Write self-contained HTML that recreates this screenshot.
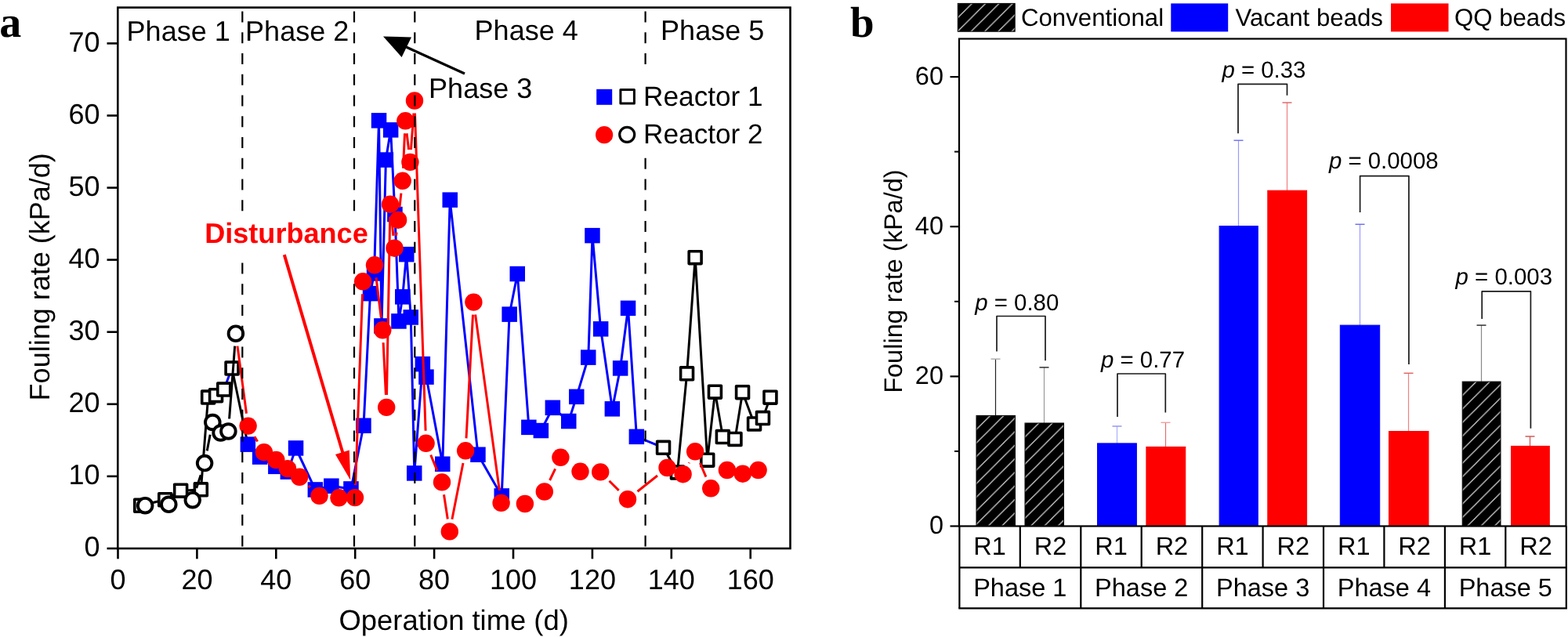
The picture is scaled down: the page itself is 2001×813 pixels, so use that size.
<!DOCTYPE html>
<html><head><meta charset="utf-8"><title>Fouling rate figure</title>
<style>html,body{margin:0;padding:0;background:#fff;width:2001px;height:813px;overflow:hidden}</style>
</head><body>
<svg width="2001" height="813" viewBox="0 0 2001 813" style="display:block" text-rendering="geometricPrecision">
<rect width="2001" height="813" fill="#fff"/>
<text x="-0.8" y="47.4" font-family="'Liberation Serif', serif" font-weight="bold" font-size="56" fill="#000">a</text>
<polyline points="285.7,497.0 296.0,470.0" fill="none" stroke="#0000ff" stroke-width="3.00" stroke-linejoin="round"/>
<polyline points="316.3,567.1 331.6,583.1 351.9,595.4 367.3,602.1 377.5,572.0 402.3,625.0 422.8,620.2 448.0,624.0 464.0,543.3 472.5,374.6 477.5,349.0 483.5,153.8 487.0,416.0 492.4,204.1 498.6,165.8 504.0,273.5 509.0,410.0 513.7,378.9 518.7,324.7 524.3,405.0 528.8,604.0 539.4,464.7 544.0,481.2 564.8,592.3 574.2,255.2 610.0,580.2 640.2,633.0 650.1,401.2 660.3,349.5 674.9,545.4 690.4,549.5 705.4,520.4 725.7,537.5 735.7,506.4 750.8,456.2 756.0,300.7 766.6,419.8 781.4,521.9 791.6,470.0 801.5,393.4 812.4,557.4" fill="none" stroke="#0000ff" stroke-width="3.00" stroke-linejoin="round"/>
<polyline points="812.4,557.4 846.6,571.4" fill="none" stroke="#0000ff" stroke-width="3.00" stroke-linejoin="round"/>
<polyline points="179.7,645.3 210.7,637.7 230.6,626.2 256.4,624.9 265.6,507.0 275.5,504.6 285.7,497.0" fill="none" stroke="#000" stroke-width="3.00" stroke-linejoin="round"/>
<polyline points="296.0,470.0 316.3,567.1" fill="none" stroke="#000" stroke-width="3.00" stroke-linejoin="round"/>
<polyline points="846.6,571.4 864.5,603.0 876.6,476.8 887.2,328.6 902.7,587.2 912.5,500.2 922.4,557.6 938.0,560.5 947.6,500.6 962.6,541.0 973.5,533.6 983.0,507.2" fill="none" stroke="#000" stroke-width="3.00" stroke-linejoin="round"/>
<rect x="306.6" y="557.4" width="19.5" height="19.5" fill="#0000ff"/>
<rect x="321.9" y="573.4" width="19.5" height="19.5" fill="#0000ff"/>
<rect x="342.1" y="585.6" width="19.5" height="19.5" fill="#0000ff"/>
<rect x="357.6" y="592.4" width="19.5" height="19.5" fill="#0000ff"/>
<rect x="367.8" y="562.2" width="19.5" height="19.5" fill="#0000ff"/>
<rect x="392.6" y="615.2" width="19.5" height="19.5" fill="#0000ff"/>
<rect x="413.1" y="610.5" width="19.5" height="19.5" fill="#0000ff"/>
<rect x="438.2" y="614.2" width="19.5" height="19.5" fill="#0000ff"/>
<rect x="454.2" y="533.5" width="19.5" height="19.5" fill="#0000ff"/>
<rect x="462.8" y="364.9" width="19.5" height="19.5" fill="#0000ff"/>
<rect x="467.8" y="339.2" width="19.5" height="19.5" fill="#0000ff"/>
<rect x="473.8" y="144.1" width="19.5" height="19.5" fill="#0000ff"/>
<rect x="477.2" y="406.2" width="19.5" height="19.5" fill="#0000ff"/>
<rect x="482.6" y="194.3" width="19.5" height="19.5" fill="#0000ff"/>
<rect x="488.9" y="156.1" width="19.5" height="19.5" fill="#0000ff"/>
<rect x="494.2" y="263.8" width="19.5" height="19.5" fill="#0000ff"/>
<rect x="499.2" y="400.2" width="19.5" height="19.5" fill="#0000ff"/>
<rect x="504.0" y="369.1" width="19.5" height="19.5" fill="#0000ff"/>
<rect x="509.0" y="314.9" width="19.5" height="19.5" fill="#0000ff"/>
<rect x="514.5" y="395.2" width="19.5" height="19.5" fill="#0000ff"/>
<rect x="519.0" y="594.2" width="19.5" height="19.5" fill="#0000ff"/>
<rect x="529.6" y="454.9" width="19.5" height="19.5" fill="#0000ff"/>
<rect x="534.2" y="471.4" width="19.5" height="19.5" fill="#0000ff"/>
<rect x="555.0" y="582.5" width="19.5" height="19.5" fill="#0000ff"/>
<rect x="564.5" y="245.4" width="19.5" height="19.5" fill="#0000ff"/>
<rect x="600.2" y="570.5" width="19.5" height="19.5" fill="#0000ff"/>
<rect x="630.5" y="623.2" width="19.5" height="19.5" fill="#0000ff"/>
<rect x="640.4" y="391.4" width="19.5" height="19.5" fill="#0000ff"/>
<rect x="650.5" y="339.8" width="19.5" height="19.5" fill="#0000ff"/>
<rect x="665.1" y="535.6" width="19.5" height="19.5" fill="#0000ff"/>
<rect x="680.6" y="539.8" width="19.5" height="19.5" fill="#0000ff"/>
<rect x="695.6" y="510.6" width="19.5" height="19.5" fill="#0000ff"/>
<rect x="716.0" y="527.8" width="19.5" height="19.5" fill="#0000ff"/>
<rect x="726.0" y="496.6" width="19.5" height="19.5" fill="#0000ff"/>
<rect x="741.0" y="446.4" width="19.5" height="19.5" fill="#0000ff"/>
<rect x="746.2" y="290.9" width="19.5" height="19.5" fill="#0000ff"/>
<rect x="756.9" y="410.1" width="19.5" height="19.5" fill="#0000ff"/>
<rect x="771.6" y="512.1" width="19.5" height="19.5" fill="#0000ff"/>
<rect x="781.9" y="460.2" width="19.5" height="19.5" fill="#0000ff"/>
<rect x="791.8" y="383.6" width="19.5" height="19.5" fill="#0000ff"/>
<rect x="802.6" y="547.6" width="19.5" height="19.5" fill="#0000ff"/>
<rect x="171.8" y="637.3" width="15.9" height="15.9" fill="#fff" stroke="#000" stroke-width="3.6" stroke-linejoin="round"/>
<rect x="202.8" y="629.8" width="15.9" height="15.9" fill="#fff" stroke="#000" stroke-width="3.6" stroke-linejoin="round"/>
<rect x="222.7" y="618.2" width="15.9" height="15.9" fill="#fff" stroke="#000" stroke-width="3.6" stroke-linejoin="round"/>
<rect x="248.4" y="616.9" width="15.9" height="15.9" fill="#fff" stroke="#000" stroke-width="3.6" stroke-linejoin="round"/>
<rect x="257.7" y="499.1" width="15.9" height="15.9" fill="#fff" stroke="#000" stroke-width="3.6" stroke-linejoin="round"/>
<rect x="267.6" y="496.7" width="15.9" height="15.9" fill="#fff" stroke="#000" stroke-width="3.6" stroke-linejoin="round"/>
<rect x="277.8" y="489.1" width="15.9" height="15.9" fill="#fff" stroke="#000" stroke-width="3.6" stroke-linejoin="round"/>
<rect x="288.1" y="462.1" width="15.9" height="15.9" fill="#fff" stroke="#000" stroke-width="3.6" stroke-linejoin="round"/>
<rect x="838.6" y="563.4" width="15.9" height="15.9" fill="#fff" stroke="#000" stroke-width="3.6" stroke-linejoin="round"/>
<rect x="856.5" y="595.0" width="15.9" height="15.9" fill="#fff" stroke="#000" stroke-width="3.6" stroke-linejoin="round"/>
<rect x="868.6" y="468.9" width="15.9" height="15.9" fill="#fff" stroke="#000" stroke-width="3.6" stroke-linejoin="round"/>
<rect x="879.2" y="320.7" width="15.9" height="15.9" fill="#fff" stroke="#000" stroke-width="3.6" stroke-linejoin="round"/>
<rect x="894.8" y="579.2" width="15.9" height="15.9" fill="#fff" stroke="#000" stroke-width="3.6" stroke-linejoin="round"/>
<rect x="904.5" y="492.2" width="15.9" height="15.9" fill="#fff" stroke="#000" stroke-width="3.6" stroke-linejoin="round"/>
<rect x="914.4" y="549.6" width="15.9" height="15.9" fill="#fff" stroke="#000" stroke-width="3.6" stroke-linejoin="round"/>
<rect x="930.0" y="552.5" width="15.9" height="15.9" fill="#fff" stroke="#000" stroke-width="3.6" stroke-linejoin="round"/>
<rect x="939.6" y="492.7" width="15.9" height="15.9" fill="#fff" stroke="#000" stroke-width="3.6" stroke-linejoin="round"/>
<rect x="954.6" y="533.0" width="15.9" height="15.9" fill="#fff" stroke="#000" stroke-width="3.6" stroke-linejoin="round"/>
<rect x="965.5" y="525.6" width="15.9" height="15.9" fill="#fff" stroke="#000" stroke-width="3.6" stroke-linejoin="round"/>
<rect x="975.0" y="499.2" width="15.9" height="15.9" fill="#fff" stroke="#000" stroke-width="3.6" stroke-linejoin="round"/>
<path d="M303.0 441.6L314.5 527.7M324.9 557.3L328.6 563.5M393.8 619.8L395.9 621.9M453.6 619.1L462.5 375.3M480.0 354.2L486.3 405.4M489.1 437.3L492.4 503.9M493.5 503.9L497.7 276.7M499.6 276.6L501.9 300.8M505.5 300.8L506.1 296.6M509.9 264.8L511.9 246.7M514.5 214.8L516.5 170.3M519.1 170.2L521.6 191.0M524.5 190.9L527.9 144.5M529.5 144.5L543.1 549.8M549.7 580.6L557.9 600.6M566.5 631.2L571.3 662.6M576.9 662.7L591.0 591.0M595.0 559.3L603.5 401.6M606.6 401.5L637.4 626.0M701.6 613.0L708.6 598.3M777.5 613.7L789.7 625.9M813.5 627.2L839.0 607.0M879.2 591.1L879.5 590.4M893.4 591.0L900.9 608.6" fill="none" stroke="#ff0000" stroke-width="3.00"/>
<path d="M250.7 623.0L256.2 606.3M264.2 575.4L268.2 554.7M292.6 534.5L299.7 441.7" fill="none" stroke="#000" stroke-width="3.00"/>
<circle cx="316.6" cy="543.6" r="11.2" fill="#ff0000"/>
<circle cx="336.9" cy="577.2" r="11.2" fill="#ff0000"/>
<circle cx="352.3" cy="587.0" r="11.2" fill="#ff0000"/>
<circle cx="367.0" cy="598.1" r="11.2" fill="#ff0000"/>
<circle cx="382.2" cy="608.8" r="11.2" fill="#ff0000"/>
<circle cx="407.5" cy="632.9" r="11.2" fill="#ff0000"/>
<circle cx="432.5" cy="635.3" r="11.2" fill="#ff0000"/>
<circle cx="453.0" cy="635.1" r="11.2" fill="#ff0000"/>
<circle cx="463.1" cy="359.3" r="11.2" fill="#ff0000"/>
<circle cx="478.0" cy="338.3" r="11.2" fill="#ff0000"/>
<circle cx="488.3" cy="421.3" r="11.2" fill="#ff0000"/>
<circle cx="493.2" cy="519.9" r="11.2" fill="#ff0000"/>
<circle cx="498.0" cy="260.7" r="11.2" fill="#ff0000"/>
<circle cx="503.5" cy="316.7" r="11.2" fill="#ff0000"/>
<circle cx="508.1" cy="280.7" r="11.2" fill="#ff0000"/>
<circle cx="513.7" cy="230.8" r="11.2" fill="#ff0000"/>
<circle cx="517.3" cy="154.3" r="11.2" fill="#ff0000"/>
<circle cx="523.4" cy="206.9" r="11.2" fill="#ff0000"/>
<circle cx="529.0" cy="128.5" r="11.2" fill="#ff0000"/>
<circle cx="543.6" cy="565.8" r="11.2" fill="#ff0000"/>
<circle cx="564.0" cy="615.4" r="11.2" fill="#ff0000"/>
<circle cx="573.8" cy="678.4" r="11.2" fill="#ff0000"/>
<circle cx="594.1" cy="575.3" r="11.2" fill="#ff0000"/>
<circle cx="604.4" cy="385.6" r="11.2" fill="#ff0000"/>
<circle cx="639.6" cy="641.9" r="11.2" fill="#ff0000"/>
<circle cx="669.9" cy="643.0" r="11.2" fill="#ff0000"/>
<circle cx="694.8" cy="627.5" r="11.2" fill="#ff0000"/>
<circle cx="715.4" cy="583.8" r="11.2" fill="#ff0000"/>
<circle cx="740.5" cy="601.8" r="11.2" fill="#ff0000"/>
<circle cx="766.2" cy="602.4" r="11.2" fill="#ff0000"/>
<circle cx="801.0" cy="637.2" r="11.2" fill="#ff0000"/>
<circle cx="851.5" cy="597.0" r="11.2" fill="#ff0000"/>
<circle cx="871.6" cy="605.2" r="11.2" fill="#ff0000"/>
<circle cx="887.1" cy="576.3" r="11.2" fill="#ff0000"/>
<circle cx="907.2" cy="623.3" r="11.2" fill="#ff0000"/>
<circle cx="927.9" cy="600.0" r="11.2" fill="#ff0000"/>
<circle cx="947.8" cy="604.7" r="11.2" fill="#ff0000"/>
<circle cx="967.6" cy="600.0" r="11.2" fill="#ff0000"/>
<circle cx="185.2" cy="645.2" r="9.3" fill="#fff" stroke="#000" stroke-width="3.9"/>
<circle cx="215.3" cy="643.8" r="9.3" fill="#fff" stroke="#000" stroke-width="3.9"/>
<circle cx="245.8" cy="638.2" r="9.3" fill="#fff" stroke="#000" stroke-width="3.9"/>
<circle cx="261.1" cy="591.1" r="9.3" fill="#fff" stroke="#000" stroke-width="3.9"/>
<circle cx="271.3" cy="539.0" r="9.3" fill="#fff" stroke="#000" stroke-width="3.9"/>
<circle cx="281.6" cy="552.5" r="9.3" fill="#fff" stroke="#000" stroke-width="3.9"/>
<circle cx="291.4" cy="550.5" r="9.3" fill="#fff" stroke="#000" stroke-width="3.9"/>
<circle cx="300.9" cy="425.7" r="9.3" fill="#fff" stroke="#000" stroke-width="3.9"/>
<line x1="309.3" y1="14.4" x2="309.3" y2="700" stroke="#000" stroke-width="2.2" stroke-dasharray="14 12.76"/>
<line x1="452.0" y1="14.4" x2="452.0" y2="700" stroke="#000" stroke-width="2.2" stroke-dasharray="14 12.76"/>
<line x1="529.3" y1="14.4" x2="529.3" y2="700" stroke="#000" stroke-width="2.2" stroke-dasharray="14 12.76"/>
<line x1="823.6" y1="14.4" x2="823.6" y2="700" stroke="#000" stroke-width="2.2" stroke-dasharray="14 12.76"/>
<rect x="150.3" y="9.6" width="858.2" height="690.4" fill="none" stroke="#000" stroke-width="2.6"/>
<line x1="136.5" y1="700.0" x2="150.3" y2="700.0" stroke="#000" stroke-width="2.6"/>
<text x="127.5" y="710.3" font-family="'Liberation Sans', Arial, Helvetica, sans-serif" font-size="36" text-anchor="end">0</text>
<line x1="136.5" y1="607.9" x2="150.3" y2="607.9" stroke="#000" stroke-width="2.6"/>
<text x="127.5" y="618.2" font-family="'Liberation Sans', Arial, Helvetica, sans-serif" font-size="36" text-anchor="end">10</text>
<line x1="136.5" y1="515.8" x2="150.3" y2="515.8" stroke="#000" stroke-width="2.6"/>
<text x="127.5" y="526.1" font-family="'Liberation Sans', Arial, Helvetica, sans-serif" font-size="36" text-anchor="end">20</text>
<line x1="136.5" y1="423.7" x2="150.3" y2="423.7" stroke="#000" stroke-width="2.6"/>
<text x="127.5" y="434.0" font-family="'Liberation Sans', Arial, Helvetica, sans-serif" font-size="36" text-anchor="end">30</text>
<line x1="136.5" y1="331.6" x2="150.3" y2="331.6" stroke="#000" stroke-width="2.6"/>
<text x="127.5" y="341.9" font-family="'Liberation Sans', Arial, Helvetica, sans-serif" font-size="36" text-anchor="end">40</text>
<line x1="136.5" y1="239.6" x2="150.3" y2="239.6" stroke="#000" stroke-width="2.6"/>
<text x="127.5" y="249.9" font-family="'Liberation Sans', Arial, Helvetica, sans-serif" font-size="36" text-anchor="end">50</text>
<line x1="136.5" y1="147.5" x2="150.3" y2="147.5" stroke="#000" stroke-width="2.6"/>
<text x="127.5" y="157.8" font-family="'Liberation Sans', Arial, Helvetica, sans-serif" font-size="36" text-anchor="end">60</text>
<line x1="136.5" y1="55.4" x2="150.3" y2="55.4" stroke="#000" stroke-width="2.6"/>
<text x="127.5" y="65.7" font-family="'Liberation Sans', Arial, Helvetica, sans-serif" font-size="36" text-anchor="end">70</text>
<line x1="150.5" y1="700" x2="150.5" y2="713.3" stroke="#000" stroke-width="2.6"/>
<text x="150.5" y="751.6" font-family="'Liberation Sans', Arial, Helvetica, sans-serif" font-size="36" text-anchor="middle">0</text>
<line x1="251.4" y1="700" x2="251.4" y2="713.3" stroke="#000" stroke-width="2.6"/>
<text x="251.4" y="751.6" font-family="'Liberation Sans', Arial, Helvetica, sans-serif" font-size="36" text-anchor="middle">20</text>
<line x1="352.3" y1="700" x2="352.3" y2="713.3" stroke="#000" stroke-width="2.6"/>
<text x="352.3" y="751.6" font-family="'Liberation Sans', Arial, Helvetica, sans-serif" font-size="36" text-anchor="middle">40</text>
<line x1="453.2" y1="700" x2="453.2" y2="713.3" stroke="#000" stroke-width="2.6"/>
<text x="453.2" y="751.6" font-family="'Liberation Sans', Arial, Helvetica, sans-serif" font-size="36" text-anchor="middle">60</text>
<line x1="554.1" y1="700" x2="554.1" y2="713.3" stroke="#000" stroke-width="2.6"/>
<text x="554.1" y="751.6" font-family="'Liberation Sans', Arial, Helvetica, sans-serif" font-size="36" text-anchor="middle">80</text>
<line x1="655.0" y1="700" x2="655.0" y2="713.3" stroke="#000" stroke-width="2.6"/>
<text x="655.0" y="751.6" font-family="'Liberation Sans', Arial, Helvetica, sans-serif" font-size="36" text-anchor="middle">100</text>
<line x1="755.9" y1="700" x2="755.9" y2="713.3" stroke="#000" stroke-width="2.6"/>
<text x="755.9" y="751.6" font-family="'Liberation Sans', Arial, Helvetica, sans-serif" font-size="36" text-anchor="middle">120</text>
<line x1="856.8" y1="700" x2="856.8" y2="713.3" stroke="#000" stroke-width="2.6"/>
<text x="856.8" y="751.6" font-family="'Liberation Sans', Arial, Helvetica, sans-serif" font-size="36" text-anchor="middle">140</text>
<line x1="957.7" y1="700" x2="957.7" y2="713.3" stroke="#000" stroke-width="2.6"/>
<text x="957.7" y="751.6" font-family="'Liberation Sans', Arial, Helvetica, sans-serif" font-size="36" text-anchor="middle">160</text>
<text x="579.2" y="803.6" font-family="'Liberation Sans', Arial, Helvetica, sans-serif" font-size="36.4" text-anchor="middle">Operation time (d)</text>
<text transform="translate(62.9 353.3) rotate(-90)" font-family="'Liberation Sans', Arial, Helvetica, sans-serif" font-size="36" text-anchor="middle">Fouling rate (kPa/d)</text>
<text x="161.6" y="51.5" font-family="'Liberation Sans', Arial, Helvetica, sans-serif" font-size="36">Phase 1</text>
<text x="313.1" y="51.6" font-family="'Liberation Sans', Arial, Helvetica, sans-serif" font-size="36">Phase 2</text>
<text x="605.6" y="51.4" font-family="'Liberation Sans', Arial, Helvetica, sans-serif" font-size="36">Phase 4</text>
<text x="843.1" y="51.4" font-family="'Liberation Sans', Arial, Helvetica, sans-serif" font-size="36">Phase 5</text>
<text x="547.1" y="125.0" font-family="'Liberation Sans', Arial, Helvetica, sans-serif" font-size="36">Phase 3</text>
<line x1="593" y1="94" x2="515" y2="58.5" stroke="#000" stroke-width="3.2"/>
<polygon points="489,46.4 525,47.4 512.6,73" fill="#000"/>
<rect x="258" y="276" width="214" height="50" fill="#fff"/>
<text x="261.2" y="309.6" font-family="'Liberation Sans', Arial, Helvetica, sans-serif" font-size="36.1" font-weight="bold" fill="#ff0000">Disturbance</text>
<line x1="362.8" y1="325.1" x2="438" y2="580" stroke="#ff0000" stroke-width="4"/>
<polygon points="447.2,612.8 428,579.9 445.8,574.4" fill="#ff0000"/>
<rect x="752" y="92" width="236" height="104" fill="#fff"/>
<rect x="761.2" y="113.8" width="20.0" height="20.0" fill="#0000ff"/>
<rect x="791.9" y="114.5" width="17.5" height="17.5" fill="#fff" stroke="#000" stroke-width="3.0" stroke-linejoin="round"/>
<circle cx="771.1" cy="172.2" r="11.1" fill="#ff0000"/>
<circle cx="800.2" cy="171.8" r="9.5" fill="#fff" stroke="#000" stroke-width="3.2"/>
<text x="821.1" y="135.3" font-family="'Liberation Sans', Arial, Helvetica, sans-serif" font-size="35.2">Reactor 1</text>
<text x="821.1" y="183.3" font-family="'Liberation Sans', Arial, Helvetica, sans-serif" font-size="35.2">Reactor 2</text>
<text transform="translate(1084.9 47.4)" font-family="'Liberation Serif', serif" font-weight="bold" font-size="55" fill="#000">b</text>
<rect x="1222.3" y="4.4" width="72.9" height="35.8" fill="url(#hl)" stroke="#000" stroke-width="1"/>
<text x="1303" y="32.9" font-family="'Liberation Sans', Arial, Helvetica, sans-serif" font-size="31.2">Conventional</text>
<rect x="1494.3" y="4.4" width="72.9" height="36" fill="#0000ff"/>
<text x="1576.5" y="33" font-family="'Liberation Sans', Arial, Helvetica, sans-serif" font-size="31.2">Vacant beads</text>
<rect x="1775" y="4.4" width="73.5" height="36" fill="#ff0000"/>
<text x="1856" y="33" font-family="'Liberation Sans', Arial, Helvetica, sans-serif" font-size="31.2">QQ beads</text>
<line x1="1270.5" y1="530.4" x2="1270.5" y2="458.2" stroke="#222" stroke-width="1.2"/>
<line x1="1264.5" y1="458.2" x2="1276.5" y2="458.2" stroke="#aaa" stroke-width="1.4"/>
<rect x="1246.0" y="530.4" width="49.5" height="141.1" fill="url(#h0_0)" stroke="#000" stroke-width="1"/>
<line x1="1332.5" y1="540.0" x2="1332.5" y2="468.9" stroke="#999" stroke-width="1.2"/>
<line x1="1326.5" y1="468.9" x2="1338.5" y2="468.9" stroke="#222" stroke-width="1.4"/>
<rect x="1308.0" y="540.0" width="49.5" height="131.5" fill="url(#h0_1)" stroke="#000" stroke-width="1"/>
<line x1="1425.5" y1="565.9" x2="1425.5" y2="544.0" stroke="#aab0ff" stroke-width="1.2"/>
<line x1="1419.5" y1="544.0" x2="1431.5" y2="544.0" stroke="#9090f0" stroke-width="1.4"/>
<rect x="1400.5" y="565.9" width="49.9" height="105.6" fill="#0000ff" stroke="#0000ff" stroke-width="1"/>
<line x1="1487.5" y1="570.4" x2="1487.5" y2="539.3" stroke="#e07070" stroke-width="1.2"/>
<line x1="1481.5" y1="539.3" x2="1493.5" y2="539.3" stroke="#f0a0a0" stroke-width="1.4"/>
<rect x="1462.9" y="570.4" width="49.9" height="101.1" fill="#ff0000" stroke="#ff0000" stroke-width="1"/>
<line x1="1580.5" y1="288.6" x2="1580.5" y2="179.2" stroke="#9a9aff" stroke-width="1.2"/>
<line x1="1574.5" y1="179.2" x2="1586.5" y2="179.2" stroke="#6a6af0" stroke-width="1.4"/>
<rect x="1556.1" y="288.6" width="49.2" height="382.9" fill="#0000ff" stroke="#0000ff" stroke-width="1"/>
<line x1="1642.5" y1="243.2" x2="1642.5" y2="131.0" stroke="#f08080" stroke-width="1.2"/>
<line x1="1636.5" y1="131.0" x2="1648.5" y2="131.0" stroke="#e06060" stroke-width="1.4"/>
<rect x="1617.8" y="243.2" width="49.8" height="428.3" fill="#ff0000" stroke="#ff0000" stroke-width="1"/>
<line x1="1735.5" y1="415.1" x2="1735.5" y2="286.3" stroke="#9a9aff" stroke-width="1.2"/>
<line x1="1729.5" y1="286.3" x2="1741.5" y2="286.3" stroke="#6a6af0" stroke-width="1.4"/>
<rect x="1710.3" y="415.1" width="50.4" height="256.4" fill="#0000ff" stroke="#0000ff" stroke-width="1"/>
<line x1="1797.5" y1="550.5" x2="1797.5" y2="476.3" stroke="#f08080" stroke-width="1.2"/>
<line x1="1791.5" y1="476.3" x2="1803.5" y2="476.3" stroke="#e06060" stroke-width="1.4"/>
<rect x="1772.5" y="550.5" width="50.5" height="121.0" fill="#ff0000" stroke="#ff0000" stroke-width="1"/>
<line x1="1890.5" y1="487.1" x2="1890.5" y2="415.1" stroke="#888" stroke-width="1.2"/>
<line x1="1884.5" y1="415.1" x2="1896.5" y2="415.1" stroke="#222" stroke-width="1.4"/>
<rect x="1866.2" y="487.1" width="48.8" height="184.4" fill="url(#h4_0)" stroke="#000" stroke-width="1"/>
<line x1="1952.5" y1="569.4" x2="1952.5" y2="557.0" stroke="#d05050" stroke-width="1.2"/>
<line x1="1946.5" y1="557.0" x2="1958.5" y2="557.0" stroke="#d05050" stroke-width="1.4"/>
<rect x="1928.5" y="569.4" width="48.8" height="102.1" fill="#ff0000" stroke="#ff0000" stroke-width="1"/>
<path d="M1272.0 448.6V403.5H1334.0V460.3" fill="none" stroke="#1a1a1a" stroke-width="1.7" stroke-linejoin="round"/>
<text x="1244.2" y="395.5" font-family="'Liberation Sans', Arial, Helvetica, sans-serif" font-size="29.4"><tspan font-style="italic">p</tspan> = 0.80</text>
<path d="M1426.0 532.0V477.0H1487.3V526.4" fill="none" stroke="#1a1a1a" stroke-width="1.7" stroke-linejoin="round"/>
<text x="1405.0" y="468.6" font-family="'Liberation Sans', Arial, Helvetica, sans-serif" font-size="29.4"><tspan font-style="italic">p</tspan> = 0.77</text>
<path d="M1580.0 170.3V107.3H1642.5V121.7" fill="none" stroke="#1a1a1a" stroke-width="1.7" stroke-linejoin="round"/>
<text x="1559.4" y="98.6" font-family="'Liberation Sans', Arial, Helvetica, sans-serif" font-size="29.4"><tspan font-style="italic">p</tspan> = 0.33</text>
<path d="M1735.6 271.0V224.6H1797.9V465.0" fill="none" stroke="#1a1a1a" stroke-width="1.7" stroke-linejoin="round"/>
<text x="1695.9" y="215.2" font-family="'Liberation Sans', Arial, Helvetica, sans-serif" font-size="29.4"><tspan font-style="italic">p</tspan> = 0.0008</text>
<path d="M1891.2 407.0V371.8H1953.4V546.7" fill="none" stroke="#1a1a1a" stroke-width="1.7" stroke-linejoin="round"/>
<text x="1857.6" y="362.6" font-family="'Liberation Sans', Arial, Helvetica, sans-serif" font-size="29.4"><tspan font-style="italic">p</tspan> = 0.003</text>
<rect x="1224" y="49.5" width="774.5" height="622" fill="none" stroke="#000" stroke-width="2.2"/>
<line x1="1212.5" y1="671.5" x2="1224" y2="671.5" stroke="#000" stroke-width="2.2"/>
<text x="1204" y="681.1" font-family="'Liberation Sans', Arial, Helvetica, sans-serif" font-size="32.5" text-anchor="end">0</text>
<line x1="1212.5" y1="480.4" x2="1224" y2="480.4" stroke="#000" stroke-width="2.2"/>
<text x="1204" y="490.0" font-family="'Liberation Sans', Arial, Helvetica, sans-serif" font-size="32.5" text-anchor="end">20</text>
<line x1="1212.5" y1="289.2" x2="1224" y2="289.2" stroke="#000" stroke-width="2.2"/>
<text x="1204" y="298.8" font-family="'Liberation Sans', Arial, Helvetica, sans-serif" font-size="32.5" text-anchor="end">40</text>
<line x1="1212.5" y1="98.1" x2="1224" y2="98.1" stroke="#000" stroke-width="2.2"/>
<text x="1204" y="107.7" font-family="'Liberation Sans', Arial, Helvetica, sans-serif" font-size="32.5" text-anchor="end">60</text>
<line x1="1218" y1="575.9" x2="1224" y2="575.9" stroke="#000" stroke-width="2"/>
<line x1="1218" y1="384.8" x2="1224" y2="384.8" stroke="#000" stroke-width="2"/>
<line x1="1218" y1="193.6" x2="1224" y2="193.6" stroke="#000" stroke-width="2"/>
<text transform="translate(1150.7 359.1) rotate(-90)" font-family="'Liberation Sans', Arial, Helvetica, sans-serif" font-size="32.5" text-anchor="middle">Fouling rate (kPa/d)</text>
<line x1="1224.4" y1="671.5" x2="1224.4" y2="776.4" stroke="#000" stroke-width="2.2"/>
<line x1="1379.3" y1="671.5" x2="1379.3" y2="776.4" stroke="#000" stroke-width="2.2"/>
<line x1="1534.2" y1="671.5" x2="1534.2" y2="776.4" stroke="#000" stroke-width="2.2"/>
<line x1="1689.0" y1="671.5" x2="1689.0" y2="776.4" stroke="#000" stroke-width="2.2"/>
<line x1="1843.9" y1="671.5" x2="1843.9" y2="776.4" stroke="#000" stroke-width="2.2"/>
<line x1="1998.8" y1="671.5" x2="1998.8" y2="776.4" stroke="#000" stroke-width="2.2"/>
<line x1="1301.8" y1="671.5" x2="1301.8" y2="724.4" stroke="#000" stroke-width="2.2"/>
<line x1="1456.7" y1="671.5" x2="1456.7" y2="724.4" stroke="#000" stroke-width="2.2"/>
<line x1="1611.6" y1="671.5" x2="1611.6" y2="724.4" stroke="#000" stroke-width="2.2"/>
<line x1="1766.4" y1="671.5" x2="1766.4" y2="724.4" stroke="#000" stroke-width="2.2"/>
<line x1="1921.3" y1="671.5" x2="1921.3" y2="724.4" stroke="#000" stroke-width="2.2"/>
<line x1="1224.4" y1="724.4" x2="1998.8" y2="724.4" stroke="#000" stroke-width="2.2"/>
<line x1="1223.3" y1="776.4" x2="1999.9" y2="776.4" stroke="#000" stroke-width="2.2"/>
<text x="1263.1" y="707.9" font-family="'Liberation Sans', Arial, Helvetica, sans-serif" font-size="32.5" text-anchor="middle">R1</text>
<text x="1340.5" y="707.9" font-family="'Liberation Sans', Arial, Helvetica, sans-serif" font-size="32.5" text-anchor="middle">R2</text>
<text x="1301.8" y="760.5" font-family="'Liberation Sans', Arial, Helvetica, sans-serif" font-size="32.5" text-anchor="middle">Phase 1</text>
<text x="1418.0" y="707.9" font-family="'Liberation Sans', Arial, Helvetica, sans-serif" font-size="32.5" text-anchor="middle">R1</text>
<text x="1495.4" y="707.9" font-family="'Liberation Sans', Arial, Helvetica, sans-serif" font-size="32.5" text-anchor="middle">R2</text>
<text x="1456.7" y="760.5" font-family="'Liberation Sans', Arial, Helvetica, sans-serif" font-size="32.5" text-anchor="middle">Phase 2</text>
<text x="1572.9" y="707.9" font-family="'Liberation Sans', Arial, Helvetica, sans-serif" font-size="32.5" text-anchor="middle">R1</text>
<text x="1650.3" y="707.9" font-family="'Liberation Sans', Arial, Helvetica, sans-serif" font-size="32.5" text-anchor="middle">R2</text>
<text x="1611.6" y="760.5" font-family="'Liberation Sans', Arial, Helvetica, sans-serif" font-size="32.5" text-anchor="middle">Phase 3</text>
<text x="1727.7" y="707.9" font-family="'Liberation Sans', Arial, Helvetica, sans-serif" font-size="32.5" text-anchor="middle">R1</text>
<text x="1805.1" y="707.9" font-family="'Liberation Sans', Arial, Helvetica, sans-serif" font-size="32.5" text-anchor="middle">R2</text>
<text x="1766.4" y="760.5" font-family="'Liberation Sans', Arial, Helvetica, sans-serif" font-size="32.5" text-anchor="middle">Phase 4</text>
<text x="1882.6" y="707.9" font-family="'Liberation Sans', Arial, Helvetica, sans-serif" font-size="32.5" text-anchor="middle">R1</text>
<text x="1960.0" y="707.9" font-family="'Liberation Sans', Arial, Helvetica, sans-serif" font-size="32.5" text-anchor="middle">R2</text>
<text x="1921.3" y="760.5" font-family="'Liberation Sans', Arial, Helvetica, sans-serif" font-size="32.5" text-anchor="middle">Phase 5</text>
<defs><pattern id="hl" patternUnits="userSpaceOnUse" x="1223.20" y="4.40" width="17.30" height="17.30"><rect width="17.30" height="17.30" fill="#000"/><path d="M-2 2L2 -2M-1 18.30L18.30 -1M15.30 19.30L19.30 15.30" stroke="#d8d8d8" stroke-width="1.25"/></pattern><pattern id="h0_0" patternUnits="userSpaceOnUse" x="1246.40" y="530.40" width="17.30" height="17.30"><rect width="17.30" height="17.30" fill="#000"/><path d="M-2 2L2 -2M-1 18.30L18.30 -1M15.30 19.30L19.30 15.30" stroke="#d8d8d8" stroke-width="1.25"/></pattern><pattern id="h0_1" patternUnits="userSpaceOnUse" x="1308.40" y="540.00" width="17.30" height="17.30"><rect width="17.30" height="17.30" fill="#000"/><path d="M-2 2L2 -2M-1 18.30L18.30 -1M15.30 19.30L19.30 15.30" stroke="#d8d8d8" stroke-width="1.25"/></pattern><pattern id="h4_0" patternUnits="userSpaceOnUse" x="1866.60" y="487.10" width="17.30" height="17.30"><rect width="17.30" height="17.30" fill="#000"/><path d="M-2 2L2 -2M-1 18.30L18.30 -1M15.30 19.30L19.30 15.30" stroke="#d8d8d8" stroke-width="1.25"/></pattern></defs>
</svg>
</body></html>
